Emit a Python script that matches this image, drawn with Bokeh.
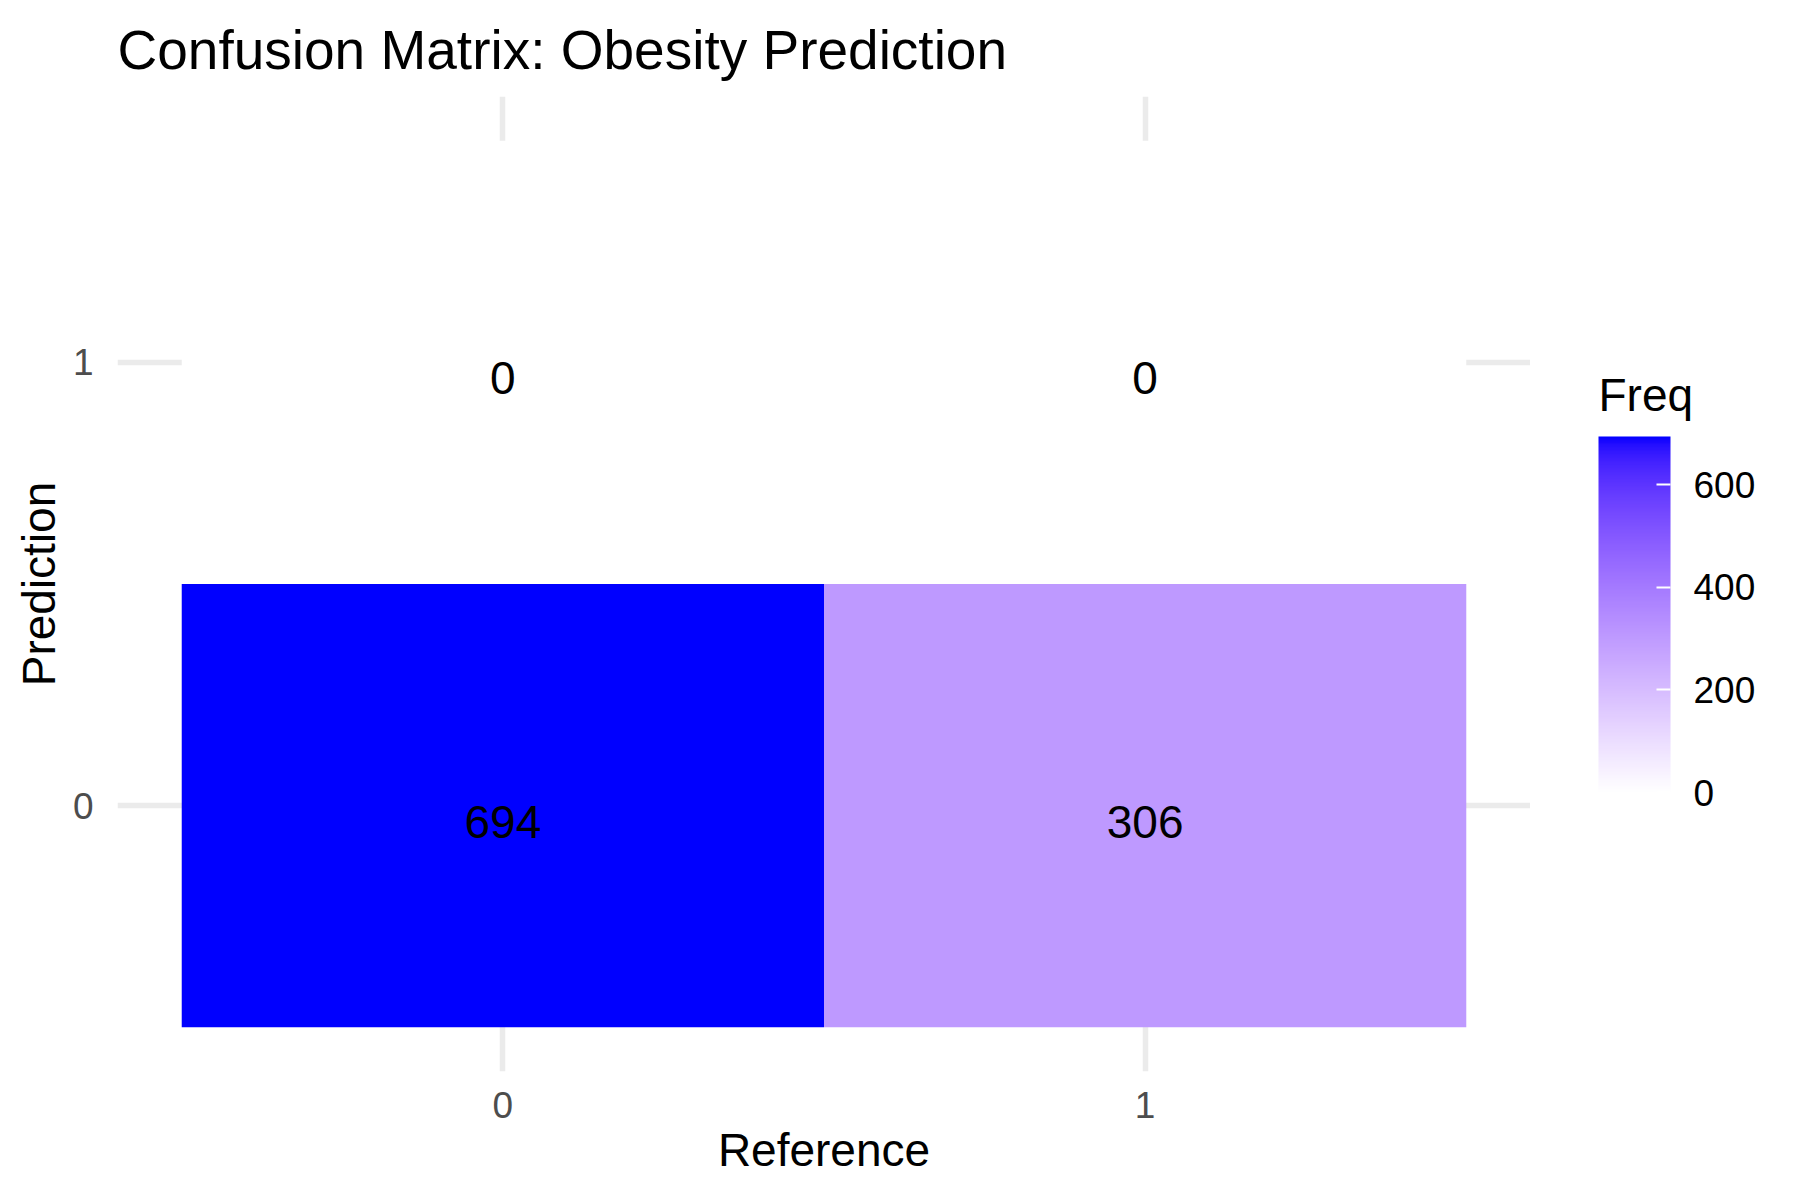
import numpy as np
from bokeh.plotting import figure
from bokeh.layouts import row
from bokeh.models import (ColumnDataSource, LinearColorMapper, ColorBar, FixedTicker,
                          FactorRange, Label, Range1d)
from bokeh.transform import transform
from bokeh.core.properties import value
from bokeh.embed import file_html
from bokeh.resources import INLINE

# ---- data ----
reference_levels = ["0", "1"]
prediction_levels = ["0", "1"]
reference = ["0", "1", "0", "1"]
prediction = ["0", "0", "1", "1"]
freq = [694, 306, 0, 0]
legend_ticks = [0, 200, 400, 600]

FONT = "Liberation Sans"

# ---- white -> blue gradient interpolated in CIELAB (like ggplot) ----
def srgb_to_lab(rgb):
    c = np.array(rgb, float) / 255.0
    c = np.where(c <= 0.04045, c / 12.92, ((c + 0.055) / 1.055) ** 2.4)
    M = np.array([[0.4124, 0.3576, 0.1805], [0.2126, 0.7152, 0.0722], [0.0193, 0.1192, 0.9505]])
    xyz = M @ c
    wp = np.array([0.95047, 1.0, 1.08883])
    t = xyz / wp
    f = np.where(t > (6 / 29) ** 3, np.cbrt(t), t / (3 * (6 / 29) ** 2) + 4 / 29)
    return np.array([116 * f[1] - 16, 500 * (f[0] - f[1]), 200 * (f[1] - f[2])])

def lab_to_hex(lab):
    L, a, b = lab
    fy = (L + 16) / 116
    fx = fy + a / 500
    fz = fy - b / 200
    f = np.array([fx, fy, fz])
    t = np.where(f > 6 / 29, f ** 3, 3 * (6 / 29) ** 2 * (f - 4 / 29))
    wp = np.array([0.95047, 1.0, 1.08883])
    xyz = t * wp
    Minv = np.array([[3.2406, -1.5372, -0.4986], [-0.9689, 1.8758, 0.0415], [0.0557, -0.2040, 1.0570]])
    c = Minv @ xyz
    c = np.clip(c, 0, 1)
    c = np.where(c <= 0.0031308, 12.92 * c, 1.055 * c ** (1 / 2.4) - 0.055)
    r, g, bb = (np.clip(np.round(c * 255), 0, 255)).astype(int)
    return "#%02x%02x%02x" % (r, g, bb)

lo = srgb_to_lab((255, 255, 255))
hi = srgb_to_lab((0, 0, 255))
palette = [lab_to_hex(lo + (hi - lo) * k / 255) for k in range(256)]

mapper = LinearColorMapper(palette=palette, low=0, high=max(freq))

source = ColumnDataSource(dict(
    reference=reference,
    prediction=prediction,
    freq=freq,
    label=[str(v) for v in freq],
))

# ---- main heatmap ----
p = figure(
    width=1530, height=1200,
    x_range=FactorRange(factors=reference_levels, range_padding=0.1),
    y_range=FactorRange(factors=prediction_levels, range_padding=0.1),
    output_backend="svg", toolbar_location=None,
    title="Confusion Matrix: Obesity Prediction",
    min_border_left=117, min_border_right=0, min_border_top=96, min_border_bottom=129,
)

p.rect(x="reference", y="prediction", width=1, height=1, source=source,
       fill_color=transform("freq", mapper), line_color=None)

p.text(x="reference", y="prediction", text="label", source=source,
       text_align="center", text_baseline="top", text_font_size="46px",
       text_font=value(FONT), text_color="black")

p.title.text_font = FONT
p.title.text_font_size = "55px"
p.title.text_font_style = "normal"
p.title.text_color = "black"
p.title.align = "left"
p.title.standoff = 31
p.title.offset = 0

for ax in (p.xaxis[0], p.yaxis[0]):
    ax.axis_line_color = None
    ax.major_tick_line_color = None
    ax.minor_tick_line_color = None
    ax.major_label_text_font = FONT
    ax.major_label_text_font_size = "37px"
    ax.major_label_text_color = "#4d4d4d"
    ax.axis_label_text_font = FONT
    ax.axis_label_text_font_size = "46px"
    ax.axis_label_text_font_style = "normal"
    ax.axis_label_text_color = "black"

p.xaxis.axis_label = "Reference"
p.yaxis.axis_label = "Prediction"
p.xaxis.major_label_standoff = 14
p.yaxis.major_label_standoff = 18
p.xaxis.axis_label_standoff = 3
p.yaxis.axis_label_standoff = 5

p.grid.grid_line_color = "#ebebeb"
p.grid.grid_line_width = 5.5
p.outline_line_color = None
p.background_fill_color = "white"
p.border_fill_color = "white"

# ---- legend panel (its frame is aligned with the main frame: y 96..1071) ----
leg = figure(
    width=270, height=1200,
    x_range=Range1d(1530, 1800), y_range=Range1d(1071, 96),
    output_backend="svg", toolbar_location=None,
    min_border_left=0, min_border_right=0, min_border_top=0, min_border_bottom=0,
)
leg.axis.visible = False
leg.grid.visible = False
leg.outline_line_color = None
leg.background_fill_color = "white"
leg.border_fill_color = "white"

cb = ColorBar(
    color_mapper=mapper, ticker=FixedTicker(ticks=legend_ticks),
    width=72, height=356, location=(68, 279),
    padding=0, margin=0, title=None,
    major_tick_line_color="white", major_tick_line_width=2,
    major_tick_in=14, major_tick_out=0,
    minor_tick_line_color=None, bar_line_color=None,
    major_label_text_font=FONT, major_label_text_font_size="37px",
    major_label_text_color="black", label_standoff=23,
    background_fill_color=None, border_line_color=None,
)
leg.add_layout(cb)

legend_title = Label(x=1598, y=394, text="Freq",
                     text_font=FONT, text_font_size="46px", text_color="black",
                     text_baseline="alphabetic", text_align="left")
leg.add_layout(legend_title)

layout = row(p, leg, spacing=0)
open("out.html", "w").write(file_html(layout, INLINE))
